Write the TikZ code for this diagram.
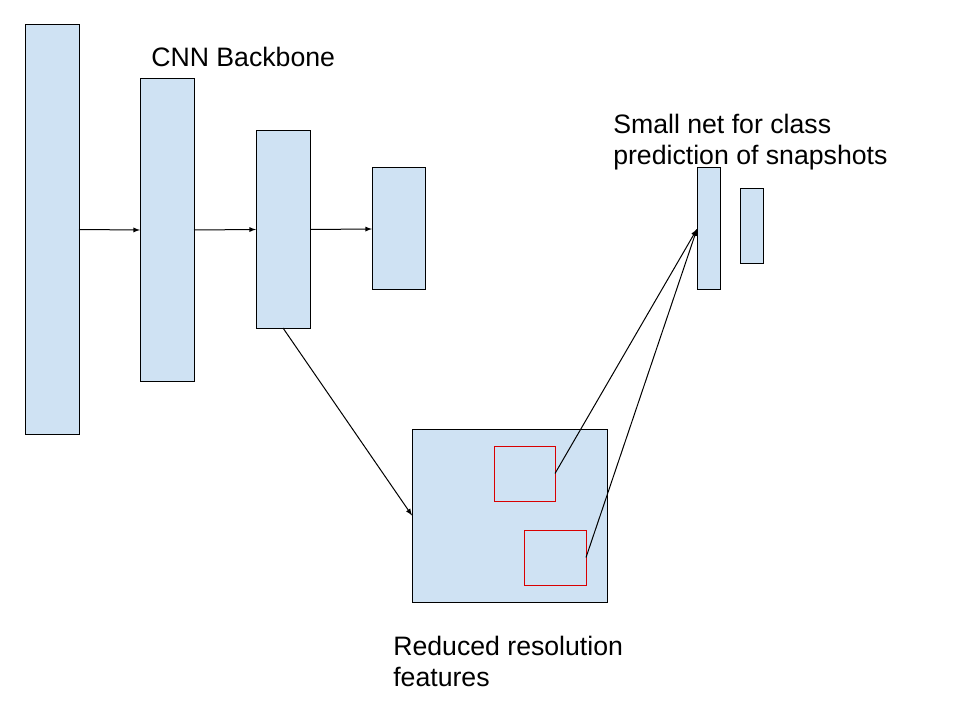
\documentclass[tikz,border=0pt]{standalone}
\usepackage{fontspec}
\setmainfont{Liberation Sans}
\usepackage{tikz}
\usetikzlibrary{arrows}
\definecolor{layerblue}{HTML}{CFE2F3}

\begin{document}
\begin{tikzpicture}[x=0.75pt, y=-0.75pt,
	layer/.style={fill=layerblue, draw=black, line width=.75pt, inner sep=0pt, outer sep=0pt, anchor=north west},
	crop/.style={draw=red!85!black, line width=.75pt, inner sep=0pt, outer sep=0pt, anchor=north west},
	conn/.style={-latex, line width=.75pt},
	caption/.style={anchor=base west, inner sep=0pt, align=left, font=\fontsize{20}{23.25}\selectfont}]
						\useasboundingbox (0,0) rectangle (960,720);
						% backbone
						\draw (25,25)   node[layer, minimum width=40.5pt, minimum height=306.75pt] (l1) {};
	    					\draw (140,79)  node[layer, minimum width=40.5pt, minimum height=226.5pt] (l2) {};
	    					\draw (256,131) node[layer, minimum width=40.5pt, minimum height=147.75pt] (l3) {};
	    					\draw (372,168) node[layer, minimum width=39.75pt, minimum height=91.5pt] (l4) {};
	    					% small net
	    					\draw (697,168) node[layer, minimum width=17.25pt, minimum height=91.5pt] (s1) {};
	    					\draw (740,189) node[layer, minimum width=17.25pt, minimum height=56.25pt] (s2) {};
	    					% features
	    					\draw (412,429) node[layer, minimum width=146.25pt, minimum height=129.75pt] (feat) {};
	    					\draw (494,446) node[crop, minimum width=45.75pt, minimum height=41.25pt] (c1) {};
	    					\draw (524,530) node[crop, minimum width=46.5pt, minimum height=41.25pt] (c2) {};
	    					% labels (base = last line)
	    					\draw (151,67)  node[caption] (tback) {CNN Backbone};
	    					\draw (613,165) node[caption] (tnet) {Small net for class\\prediction of snapshots};
	    					\draw (393,686) node[caption] (tfeat) {Reduced resolution\\features};
	    					% arrows
	    					\draw (l1.east) edge[conn] (l2.west);
	    					\draw (l2.east) edge[conn] (l3.west);
	    					\draw (l3.east) edge[conn] (l4.west);
	    					\draw (l3.south) edge[conn] (feat.west);
	    					\draw (c1.east) edge[conn] (s1.west);
	    					\draw (c2.east) edge[conn] (s1.west);
		    			\end{tikzpicture}
\end{document}
